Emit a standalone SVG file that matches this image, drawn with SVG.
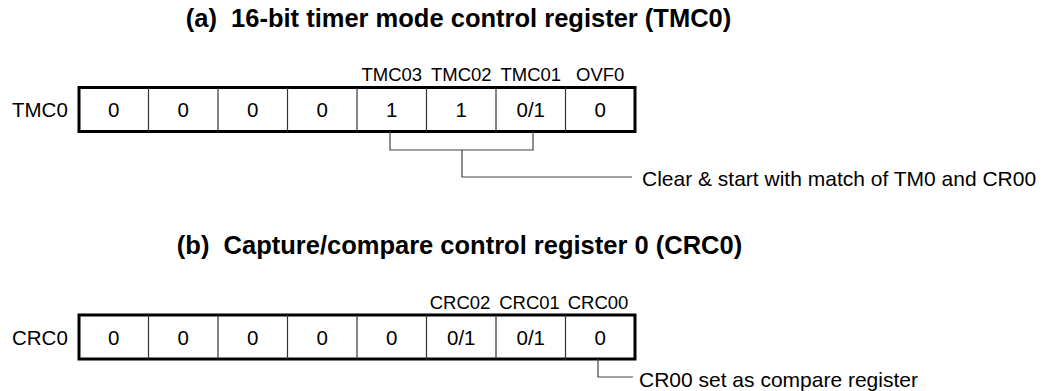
<svg xmlns="http://www.w3.org/2000/svg" width="1051" height="391" viewBox="0 0 1051 391">
<style>
  .title { font-family: "Liberation Sans", Arial, sans-serif; font-weight: bold; font-size: 25.5px; fill: #000; text-anchor: middle; white-space: pre; }
  .name { font-family: "Liberation Sans", Arial, sans-serif; font-size: 20.5px; fill: #000; }
  .val { font-family: "Liberation Sans", Arial, sans-serif; font-size: 20.5px; fill: #000; text-anchor: middle; }
  .bit { font-family: "Liberation Sans", Arial, sans-serif; font-size: 18.5px; fill: #000; text-anchor: middle; }
  .desc { font-family: "Liberation Sans", Arial, sans-serif; font-size: 21px; fill: #000; }
  .frame { fill: #fff; stroke: #000; stroke-width: 3; }
  .div { stroke: #333; stroke-width: 1.2; fill: none; }
  .conn { stroke: #444; stroke-width: 1.2; fill: none; }
</style>
<rect width="1051" height="391" fill="#fff"/>

<g id="title-a"><text class="title" x="458.5" y="27" xml:space="preserve">(a)  16-bit timer mode control register (TMC0)</text></g>

<g id="reg-tmc0">
  <text class="name" x="12" y="117">TMC0</text>
  <rect class="frame" x="79" y="87.5" width="556" height="44"/>
  <path class="div" d="M148.5 87.5V131.5M218 87.5V131.5M287.5 87.5V131.5M357 87.5V131.5M426.5 87.5V131.5M496 87.5V131.5M565.5 87.5V131.5"/>
  <text class="val" x="113.75" y="117">0</text>
  <text class="val" x="183.25" y="117">0</text>
  <text class="val" x="252.75" y="117">0</text>
  <text class="val" x="322.25" y="117">0</text>
  <text class="val" x="391.75" y="117">1</text>
  <text class="val" x="461.25" y="117">1</text>
  <text class="val" x="530.75" y="117">0/1</text>
  <text class="val" x="600.25" y="117">0</text>
  <text class="bit" x="391.75" y="81">TMC03</text>
  <text class="bit" x="461.25" y="81">TMC02</text>
  <text class="bit" x="530.75" y="81">TMC01</text>
  <text class="bit" x="600.25" y="81">OVF0</text>
</g>

<g id="desc-a"><text class="desc" x="642" y="186">Clear &amp; start with match of TM0 and CR00</text></g>

<g id="title-b"><text class="title" x="459.5" y="254" xml:space="preserve">(b)  Capture/compare control register 0 (CRC0)</text></g>

<g id="reg-crc0">
  <text class="name" x="12" y="344.5">CRC0</text>
  <rect class="frame" x="79" y="315" width="556" height="44"/>
  <path class="div" d="M148.5 315V359M218 315V359M287.5 315V359M357 315V359M426.5 315V359M496 315V359M565.5 315V359"/>
  <text class="val" x="113.75" y="344.5">0</text>
  <text class="val" x="183.25" y="344.5">0</text>
  <text class="val" x="252.75" y="344.5">0</text>
  <text class="val" x="322.25" y="344.5">0</text>
  <text class="val" x="391.75" y="344.5">0</text>
  <text class="val" x="461.25" y="344.5">0/1</text>
  <text class="val" x="530.75" y="344.5">0/1</text>
  <text class="val" x="600.25" y="344.5">0</text>
  <text class="bit" x="460" y="308.5">CRC02</text>
  <text class="bit" x="529.5" y="308.5">CRC01</text>
  <text class="bit" x="598" y="308.5">CRC00</text>
</g>

<g id="desc-b"><text class="desc" x="639" y="386.5">CR00 set as compare register</text></g>

<g id="connectors">
  <path class="conn" d="M390 131.5V150H533V131.5"/>
  <path class="conn" d="M462 150V177H632"/>
  <path class="conn" d="M598 359V377H633"/>
</g>
</svg>
